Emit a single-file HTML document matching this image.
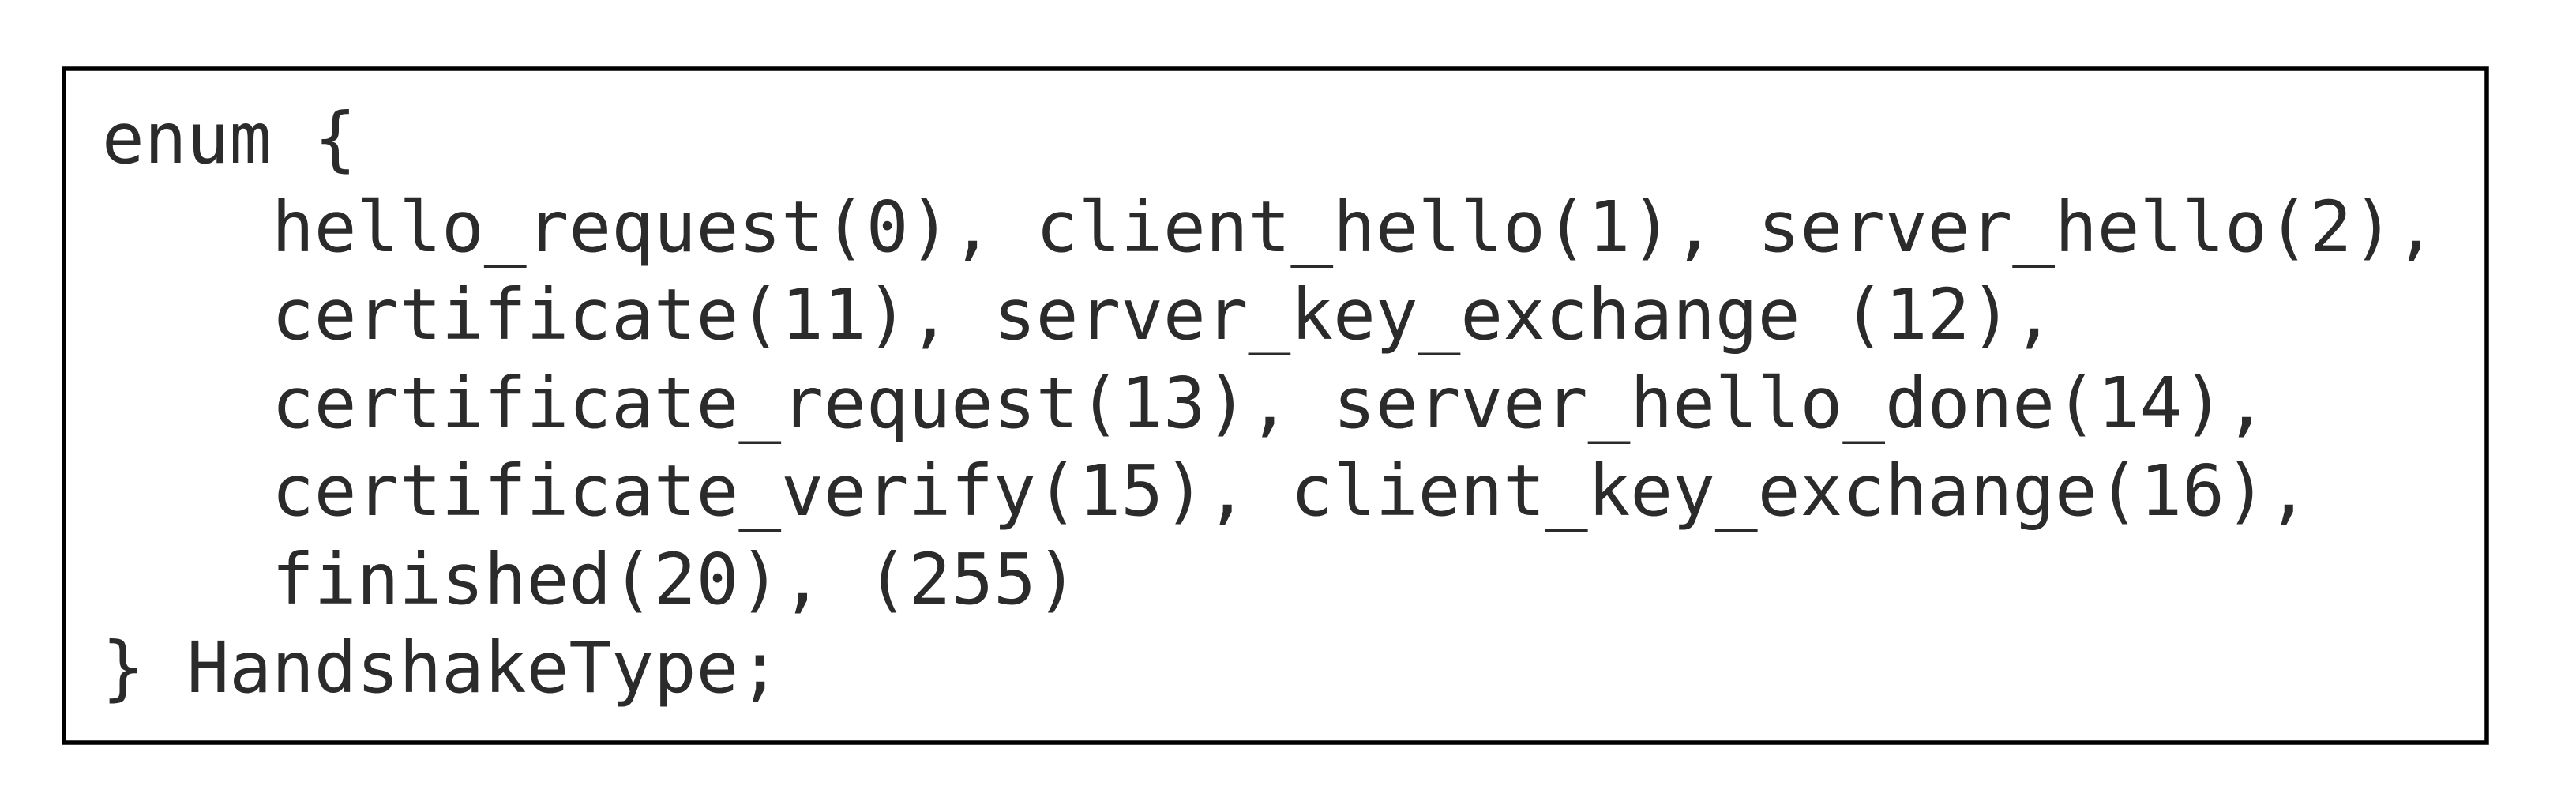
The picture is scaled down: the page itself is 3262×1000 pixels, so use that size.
<!DOCTYPE html>
<html><head><meta charset="utf-8"><style>
html,body{margin:0;padding:0;background:#fff;}
body{width:3262px;height:1000px;overflow:hidden;position:relative;}
svg{position:absolute;left:0;top:0;}
text{font-family:"DejaVu Sans Mono","Liberation Mono",monospace;font-size:89.3px;fill:#2b2b2b;white-space:pre;}
</style></head><body>
<svg width="3262" height="1000" viewBox="0 0 3262 1000">
<rect x="81" y="87" width="3068" height="853" fill="#fff" stroke="#000" stroke-width="5.5"/>
<text x="129" y="206" xml:space="preserve">enum {</text>
<text x="129" y="318" xml:space="preserve">    hello_request(0), client_hello(1), server_hello(2),</text>
<text x="129" y="429" xml:space="preserve">    certificate(11), server_key_exchange (12),</text>
<text x="129" y="541" xml:space="preserve">    certificate_request(13), server_hello_done(14),</text>
<text x="129" y="652" xml:space="preserve">    certificate_verify(15), client_key_exchange(16),</text>
<text x="129" y="764" xml:space="preserve">    finished(20), (255)</text>
<text x="129" y="876" xml:space="preserve">} HandshakeType;</text>
</svg>
</body></html>
